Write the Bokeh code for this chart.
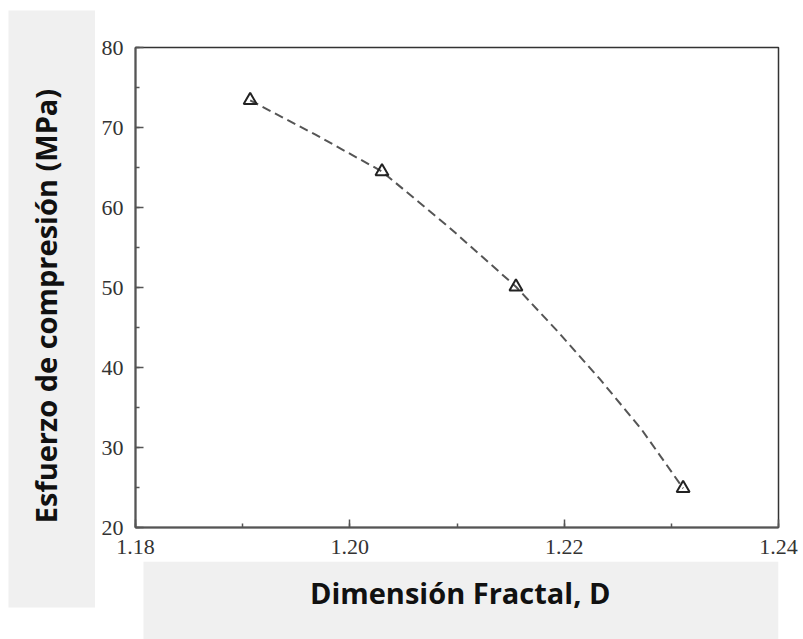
import math
from bokeh.plotting import figure
from bokeh.layouts import row, column
from bokeh.models import Label, SingleIntervalTicker, Range1d, PrintfTickFormatter, BoxAnnotation
from bokeh.embed import file_html
from bokeh.resources import INLINE

# data
D = [1.1907, 1.2030, 1.2155, 1.2311]
sigma = [73.4, 64.5, 50.1, 24.9]
# dashed fitted curve
fit_D = [1.1907, 1.1968, 1.2030, 1.2092, 1.2155, 1.2194, 1.2233, 1.2272, 1.2311]
fit_sigma = [73.4, 69.1, 64.5, 57.6, 50.1, 44.5, 38.6, 32.3, 24.9]

x_label = "Dimensión Fractal, D"
y_label = "Esfuerzo de compresión (MPa)"

GREY = "#f0f0f0"
TITLE_FONT = "Open Sans"
TITLE_SIZE = "29px"


def panel(width, height, left, right, top, bottom, bg):
    f = figure(width=width, height=height, output_backend="svg", toolbar_location=None,
               x_range=Range1d(0, 1), y_range=Range1d(0, 1),
               x_axis_location=None, y_axis_location=None,
               min_border_left=left, min_border_right=right,
               min_border_top=top, min_border_bottom=bottom)
    f.grid.visible = False
    f.outline_line_color = None
    f.background_fill_color = bg
    f.border_fill_color = "white"
    return f


# left grey strip with the y title
L = panel(95, 639, 8, 0, 10, 32, GREY)
L.add_layout(Label(x=0.42, y=0.505, text=y_label, text_font=TITLE_FONT,
                   text_font_style="bold", text_font_size=TITLE_SIZE,
                   text_color="#111111", angle=math.pi / 2,
                   text_align="center", text_baseline="alphabetic"))

# main plot
PW, PH = 708, 561
p = figure(width=PW, height=PH, output_backend="svg", toolbar_location=None,
           x_range=Range1d(1.18, 1.24), y_range=Range1d(20, 80),
           min_border_left=40, min_border_right=25,
           min_border_top=47, min_border_bottom=34)
p.grid.visible = False
p.background_fill_color = "white"
p.border_fill_color = "white"
p.outline_line_color = "#333333"
p.outline_line_width = 1.5

for ax, tk in ((p.xaxis, SingleIntervalTicker(interval=0.02, num_minor_ticks=2)),
               (p.yaxis, SingleIntervalTicker(interval=10, num_minor_ticks=2))):
    ax.ticker = tk
    ax.axis_line_color = "#555555"
    ax.axis_line_width = 2
    ax.major_tick_in = 8
    ax.major_tick_out = 0
    ax.minor_tick_in = 4
    ax.minor_tick_out = 0
    ax.major_tick_line_color = "#555555"
    ax.minor_tick_line_color = "#555555"
    ax.major_tick_line_width = 1.5
    ax.minor_tick_line_width = 1.5
    ax.major_label_text_font = "Liberation Serif"
    ax.major_label_text_font_size = "22px"
    ax.major_label_text_color = "#333333"
p.xaxis.major_label_standoff = 12
p.yaxis.major_label_standoff = 12
p.xaxis.formatter = PrintfTickFormatter(format="%.2f")

p.line(fit_D, fit_sigma, line_color="#555555", line_width=2, line_dash="9 5")
p.scatter(D, sigma, marker="triangle", size=13, fill_color=None,
          line_color="#222222", line_width=2)

# bottom strip with the x title (frame aligned with the plot's frame)
B = panel(708, 78, 40, 25, 0, 0, "white")
B.add_layout(BoxAnnotation(left=8, left_units="screen", fill_color=GREY,
                           fill_alpha=1, line_alpha=0, level="underlay"))
B.add_layout(Label(x=0.505, y=0.6, text=x_label, text_font=TITLE_FONT,
                   text_font_style="bold", text_font_size=TITLE_SIZE,
                   text_color="#111111",
                   text_align="center", text_baseline="alphabetic"))

layout = row(L, column(p, B, spacing=0), spacing=0)

open("out.html", "w").write(file_html(layout, INLINE))
